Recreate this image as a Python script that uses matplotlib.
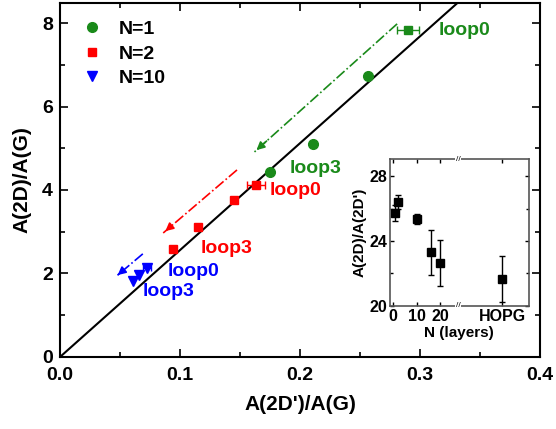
import numpy as np
import matplotlib.pyplot as plt
from matplotlib.ticker import MultipleLocator

plt.rcParams['font.family'] = ['Liberation Sans', 'DejaVu Sans']
plt.rcParams['font.weight'] = 'bold'

# main data
n1_x = [0.175, 0.211, 0.257]
n1_y = [4.43, 5.10, 6.73]
n1_loop0 = (0.290, 7.83, 0.009)

n2_x = [0.094, 0.115, 0.145]
n2_y = [2.59, 3.11, 3.76]
n2_loop0 = (0.163, 4.12, 0.0075)

n10_x = [0.061, 0.066, 0.0725]
n10_y = [1.83, 1.96, 2.13]
n10_xerr = [0, 0, 0.003]

slope = 25.6

# arrows: (x_start, y_start, x_end, y_end)
arrow_n1 = (0.281, 7.98, 0.162, 4.91)
arrow_n2 = (0.1475, 4.48, 0.086, 2.97)
arrow_n10 = (0.069, 2.47, 0.048, 1.96)

# inset data
layers = [1, 2, 10, 16, 20]
ratio = [25.75, 26.4, 25.35, 23.3, 22.65]
ratio_err = [0.5, 0.45, 0.3, 1.4, 1.4]
hopg_pos = 45.8
hopg_ratio = 21.65
hopg_err = 1.4

green = '#1a8a1a'
red = '#ff0000'
blue = '#0000ff'

fig = plt.figure(figsize=(5.56, 4.29), dpi=100)
ax = fig.add_axes([0.108, 0.168, 0.863, 0.825])

xl = np.array([0, 0.4])
ax.plot(xl, slope * xl, color='black', lw=1.5, zorder=1)

ax.plot(n1_x, n1_y, 'o', color=green, ms=7, label='N=1')
ax.errorbar(n1_loop0[0], n1_loop0[1], xerr=n1_loop0[2], fmt='s', color=green,
            ms=6, capsize=3, elinewidth=1)
ax.plot(n2_x, n2_y, 's', color=red, ms=6, label='N=2')
ax.errorbar(n2_loop0[0], n2_loop0[1], xerr=n2_loop0[2], fmt='s', color=red,
            ms=6, capsize=3, elinewidth=1)
ax.errorbar(n10_x, n10_y, xerr=n10_xerr, fmt='none', ecolor=blue,
            capsize=2, elinewidth=1)
ax.plot(n10_x, n10_y, 'v', color=blue, ms=7.5, label='N=10')

for (x0, y0, x1, y1), c in [(arrow_n1, green), (arrow_n2, red), (arrow_n10, blue)]:
    ax.plot([x0, x1], [y0, y1], color=c, lw=1.2, ls='-.')
    ax.annotate('', xy=(x1, y1), xytext=(x0 + (x1 - x0) * 0.9, y0 + (y1 - y0) * 0.9),
                arrowprops=dict(arrowstyle='-|>', color=c, lw=1.2, mutation_scale=12))

lbl = dict(fontsize=14, fontweight='bold', va='center')
ax.text(0.316, 7.83, 'loop0', color=green, **lbl)
ax.text(0.191, 4.52, 'loop3', color=green, **lbl)
ax.text(0.175, 3.98, 'loop0', color=red, **lbl)
ax.text(0.117, 2.59, 'loop3', color=red, **lbl)
ax.text(0.090, 2.04, 'loop0', color=blue, **lbl)
ax.text(0.069, 1.56, 'loop3', color=blue, **lbl)

ax.set_xlim(0, 0.4)
ax.set_ylim(0, 8.48)
ax.xaxis.set_major_locator(MultipleLocator(0.1))
ax.xaxis.set_minor_locator(MultipleLocator(0.05))
ax.yaxis.set_major_locator(MultipleLocator(2))
ax.yaxis.set_minor_locator(MultipleLocator(1))
ax.tick_params(which='both', direction='in', top=True, right=True, width=1.2)
ax.tick_params(which='major', length=6, labelsize=14, pad=5)
ax.tick_params(axis='x', which='major', pad=7)
ax.tick_params(which='minor', length=3.5)
for lab in ax.get_xticklabels() + ax.get_yticklabels():
    lab.set_fontweight('bold')
for s in ax.spines.values():
    s.set_linewidth(1.5)
ax.set_xlabel("A(2D')/A(G)", fontsize=15, fontweight='bold', labelpad=8)
ax.set_ylabel('A(2D)/A(G)', fontsize=15, fontweight='bold', labelpad=8)

handles, labels = ax.get_legend_handles_labels()
leg = ax.legend(handles, labels, loc='upper left', frameon=False, fontsize=14,
                handletextpad=0.6, labelspacing=0.35, borderaxespad=0.5,
                handlelength=1.5)
for t in leg.get_texts():
    t.set_fontweight('bold')

# inset
ins = fig.add_axes([0.701, 0.287, 0.250, 0.342])
ins.errorbar(layers, ratio, yerr=ratio_err, fmt='s', color='black', ms=6,
             capsize=2, elinewidth=1)
ins.errorbar([hopg_pos], [hopg_ratio], yerr=[hopg_err], fmt='s', color='black',
             ms=6, capsize=2, elinewidth=1)
ins.set_xlim(-1.25, 57)
ins.set_ylim(20, 29.05)
ins.set_xticks([0, 10, 20, hopg_pos])
ins.set_xticklabels(['0', '10', '20', 'HOPG'])
ins.set_yticks([20, 24, 28])
ins.yaxis.set_minor_locator(MultipleLocator(2))
ins.tick_params(which='both', direction='in', top=True, right=True, width=1, labelsize=11.5)
ins.tick_params(which='major', length=3, pad=2)
ins.tick_params(which='minor', length=2)
for lab in ins.get_xticklabels() + ins.get_yticklabels():
    lab.set_fontweight('bold')
for s in ins.spines.values():
    s.set_linewidth(1.2)
    s.set_color('#555555')
for yb in (0, 1):
    ins.text(27.5, yb, '//', transform=ins.get_xaxis_transform(), ha='center',
             va='center', fontsize=6, fontweight='normal', color='black',
             bbox=dict(facecolor='white', edgecolor='none', pad=0.5))
ins.set_xlabel('N (layers)', fontsize=11, fontweight='bold', labelpad=2)
ins.set_ylabel("A(2D)/A(2D')", fontsize=11, fontweight='bold', labelpad=2)

fig.savefig('out.png', dpi=100)
